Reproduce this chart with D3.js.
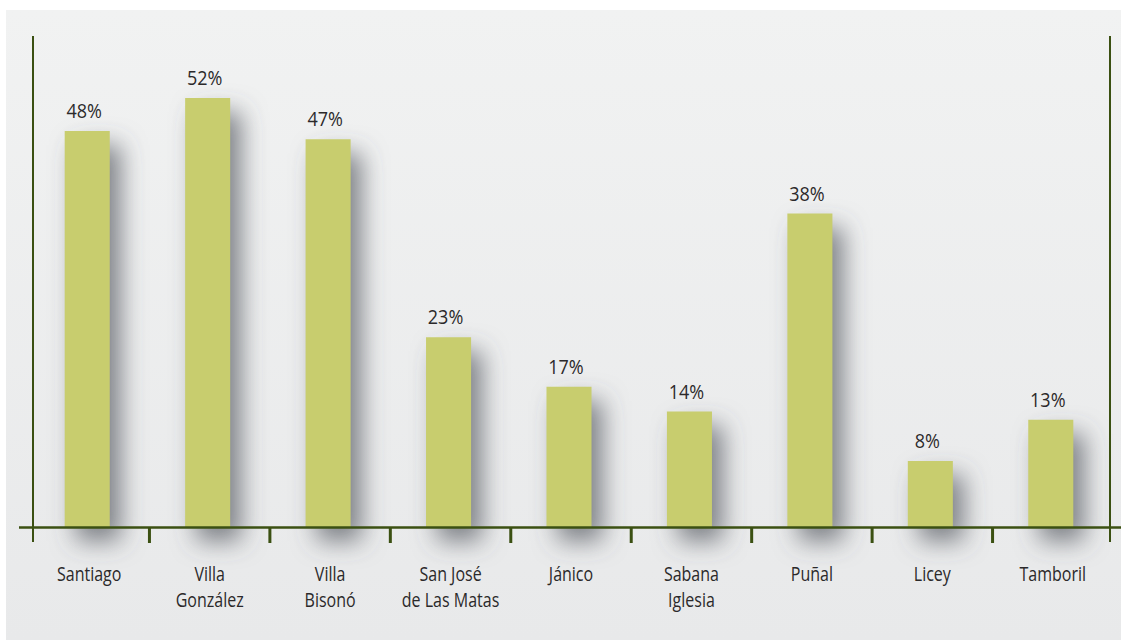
<!DOCTYPE html>
<html>
<head>
<meta charset="utf-8">
<script src="https://cdn.jsdelivr.net/npm/d3@7"></script>
<style>
  html, body { margin: 0; padding: 0; background: #ffffff; }
  svg { display: block; }
  text { font-family: "Open Sans", "Noto Sans", sans-serif; fill: #2b292a; }
</style>
</head>
<body>
<svg id="chart" width="1121" height="641"></svg>
<script>
const categories = ["Santiago", "Villa\nGonzález", "Villa\nBisonó", "San José\nde Las Matas", "Jánico", "Sabana\nIglesia", "Puñal", "Licey", "Tamboril"];
const values = [48, 52, 47, 23, 17, 14, 38, 8, 13];
const valueLabels = ["48%", "52%", "47%", "23%", "17%", "14%", "38%", "8%", "13%"];

const svg = d3.select("#chart");
const W = 1121, H = 641;
const axisColor = "#3b5012";
const baseY = 527;

const defs = svg.append("defs");
const grad = defs.append("linearGradient").attr("id", "bg").attr("x1", 0).attr("y1", 0).attr("x2", 0).attr("y2", 1);
grad.append("stop").attr("offset", "0%").attr("stop-color", "#f1f2f2");
grad.append("stop").attr("offset", "100%").attr("stop-color", "#e8e9ea");

const filt = defs.append("filter").attr("id", "shadow")
  .attr("x", "-100%").attr("y", "-50%").attr("width", "300%").attr("height", "200%");
filt.append("feGaussianBlur").attr("in", "SourceAlpha").attr("stdDeviation", 12).attr("result", "b");
filt.append("feOffset").attr("in", "b").attr("dx", 11).attr("dy", 14).attr("result", "o");
filt.append("feFlood").attr("flood-color", "#4f535b").attr("flood-opacity", 0.7).attr("result", "c");
filt.append("feComposite").attr("in", "c").attr("in2", "o").attr("operator", "in").attr("result", "s");
const merge = filt.append("feMerge");
merge.append("feMergeNode").attr("in", "s");

// background panel
svg.append("rect").attr("x", 6).attr("y", 10).attr("width", W - 6).attr("height", 630).attr("fill", "url(#bg)");

const x = d3.scaleBand().domain(categories).range([27, 1111]).paddingInner(0.626).paddingOuter(0.313);
const y = d3.scaleLinear().domain([0, 60]).range([baseY, 32]);

const data = categories.map((c, i) => ({ c, v: values[i], label: valueLabels[i] }));

// shadows
svg.append("g").attr("filter", "url(#shadow)")
  .selectAll("rect").data(data).join("rect")
  .attr("x", d => x(d.c))
  .attr("y", d => y(d.v))
  .attr("width", x.bandwidth())
  .attr("height", d => baseY - y(d.v))
  .attr("fill", "#000");

// axes lines
svg.append("line").attr("x1", 33).attr("x2", 33).attr("y1", 36).attr("y2", 542)
  .attr("stroke", axisColor).attr("stroke-width", 2);
svg.append("line").attr("x1", 1110).attr("x2", 1110).attr("y1", 36).attr("y2", 542)
  .attr("stroke", axisColor).attr("stroke-width", 2);

// bars
svg.append("g").selectAll("rect").data(data).join("rect")
  .attr("x", d => x(d.c))
  .attr("y", d => y(d.v))
  .attr("width", x.bandwidth())
  .attr("height", d => baseY - y(d.v))
  .attr("fill", "#c8cd6e");

// x axis baseline
svg.append("line").attr("x1", 19).attr("x2", W).attr("y1", baseY + 0.5).attr("y2", baseY + 0.5)
  .attr("stroke", axisColor).attr("stroke-width", 2.5);

// ticks between categories
const step = x.step();
const tickXs = categories.slice(0, -1).map(c => x(c) + x.bandwidth() + (step - x.bandwidth()) / 2 + 2);
svg.append("g").selectAll("line").data(tickXs).join("line")
  .attr("x1", d => d).attr("x2", d => d)
  .attr("y1", baseY).attr("y2", 543)
  .attr("stroke", axisColor).attr("stroke-width", 3);

// value labels
svg.append("g").selectAll("text").data(data).join("text")
  .attr("transform", d => `translate(${x(d.c) + x.bandwidth() / 2 - 3},${y(d.v) - 13}) scale(0.9,1)`)
  .attr("text-anchor", "middle")
  .attr("font-size", 20)
  .text(d => d.label);

// category labels
const cl = svg.append("g").selectAll("text").data(data).join("text")
  .attr("transform", d => `translate(${x(d.c) + x.bandwidth() / 2 + 2},581) scale(0.8,1)`)
  .attr("text-anchor", "middle")
  .attr("font-size", 20);
cl.selectAll("tspan").data(d => d.c.split("\n"))
  .join("tspan")
  .attr("x", 0)
  .attr("dy", (d, i) => i === 0 ? 0 : 26)
  .text(d => d);
</script>
</body>
</html>
